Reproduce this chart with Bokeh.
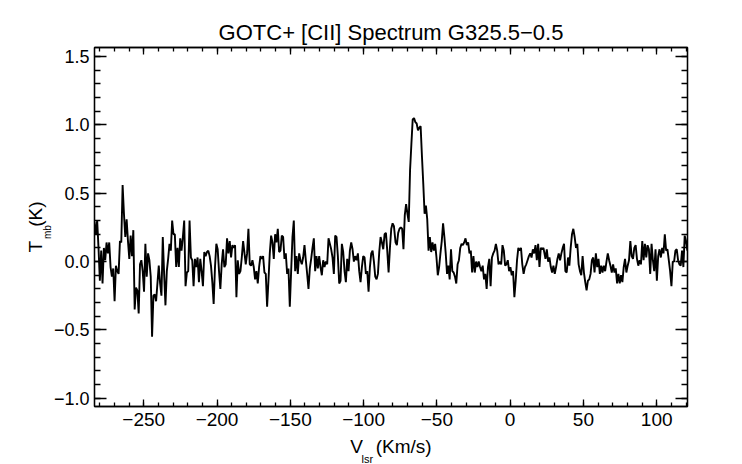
import numpy as np
from bokeh.plotting import figure
from bokeh.models import (Range1d, LinearAxis, SingleIntervalTicker, CustomJSTickFormatter, Label)
from bokeh.embed import file_html
from bokeh.resources import INLINE

# ---------------- data ----------------
title_text = "GOTC+ [CII] Spectrum G325.5\u22120.5"
x_range_kms = (-283.6, 121.0)
y_range_k = (-1.06, 1.566)

# spectrum pieces: (first, last) channel velocity in km/s, and Tmb values in K
seg1_vel = (-283.6, -182.2)
seg1_tmb = [0.29, 0.20, 0.30, 0.10, -0.14, 0.08, -0.16, 0.10, 0.01, 0.14,
            0.06, 0.14, -0.04, -0.11, -0.05, -0.29, -0.03, -0.07, -0.09, 0.15,
            0.14, 0.56, 0.35, 0.18, 0.31, 0.15, 0.02, 0.19, 0.04, 0.23,
            -0.35, -0.19, -0.21, -0.38, -0.02, 0.01, -0.07, -0.22, 0.13, -0.11,
            0.06, 0.01, -0.11, -0.55, -0.25, -0.24, -0.29, -0.16, -0.03, -0.16,
            -0.25, 0.18, -0.09, -0.32, -0.07, 0.02, 0.13, 0.08, 0.30, 0.20,
            0.20, -0.04, 0.10, -0.04, 0.17, 0.08, 0.18, 0.30, -0.18, -0.08,
            -0.07, 0.30, 0.03, 0.01, -0.18, 0.02, -0.04, 0.03, -0.15, 0.02,
            -0.07, -0.18, 0.07, 0.04, 0.07, 0.08, 0.04, -0.03, -0.15, -0.31,
            -0.04, 0.13, 0.09, -0.07, -0.20, -0.02, 0.09, -0.04, -0.02, 0.17,
            0.06, 0.15, 0.03, 0.12, 0.10, 0.12, -0.26, 0.01, -0.09, -0.07,
            0.03, 0.15]

seg2_vel = (-180.4, -79.3)
seg2_tmb = [-0.02, 0.06, 0.24, -0.02, -0.03, 0.01, -0.04, -0.13, -0.07, -0.16,
            -0.04, 0.04, 0.02, 0.04, -0.08, -0.09, -0.33, -0.14, 0.06, 0.19,
            0.14, 0.02, 0.20, 0.14, 0.24, 0.07, 0.08, 0.19, 0.18, 0.02,
            0.06, -0.09, -0.05, -0.33, -0.07, 0.18, 0.30, -0.07, 0.04, -0.09,
            0.06, 0.01, -0.02, 0.03, 0.12, 0.01, -0.09, -0.20, -0.05, 0.02,
            0.10, 0.17, -0.07, 0.04, -0.05, 0.04, -0.04, -0.10, 0.01, -0.04,
            0.00, -0.02, 0.17, 0.13, 0.09, 0.03, -0.09, 0.19, 0.18, 0.04,
            -0.16, -0.14, 0.13, 0.07, -0.07, -0.15, 0.02, -0.07, 0.08, 0.14,
            0.09, 0.00, 0.04, 0.01, 0.06, -0.07, -0.15, -0.04, 0.04, 0.03,
            -0.09, -0.07, -0.22, -0.04, 0.06, 0.08, 0.00, -0.11, -0.13, -0.09,
            0.07, 0.18, 0.14, 0.09, 0.20, 0.21, 0.08, -0.08, 0.10, 0.24,
            0.28, 0.26]

seg3_vel = (-78.2, 22.7)
seg3_tmb = [0.14, 0.12, 0.21, 0.24, 0.25, 0.24, 0.09, 0.34, 0.42, 0.35,
            0.29, 0.67, 0.86, 1.04, 1.05, 1.02, 1.01, 0.96, 0.98, 0.99,
            0.77, 0.57, 0.35, 0.41, 0.31, 0.08, 0.18, 0.07, 0.14, 0.08,
            0.13, 0.03, -0.10, -0.04, 0.06, 0.15, 0.28, 0.18, 0.06, -0.09,
            -0.03, -0.13, 0.09, -0.07, -0.08, -0.11, -0.16, -0.02, 0.01, 0.10,
            0.13, 0.12, 0.14, 0.17, 0.12, 0.14, 0.06, 0.08, -0.08, 0.04,
            -0.08, 0.00, -0.04, 0.00, -0.04, -0.07, -0.03, -0.13, -0.09, -0.20,
            -0.04, 0.02, -0.18, 0.03, 0.06, 0.08, 0.13, 0.08, -0.02, 0.00,
            -0.02, 0.12, 0.08, -0.03, -0.02, 0.01, -0.07, -0.04, -0.10, -0.07,
            -0.26, -0.14, 0.01, 0.10, 0.08, 0.10, -0.02, -0.09, -0.04, -0.02,
            0.01, 0.04, 0.06, 0.03, 0.09, 0.06, 0.12, 0.01, 0.13, -0.04,
            0.10, 0.09, 0.10]

seg4_vel = (24.1, 120.9)
seg4_tmb = [0.02, 0.09, 0.00, 0.03, -0.04, -0.08, -0.03, -0.09, -0.04, 0.02,
            0.06, 0.01, 0.06, 0.10, 0.13, -0.07, -0.08, 0.03, -0.03, 0.10,
            0.20, 0.24, 0.18, 0.10, 0.13, -0.02, -0.07, -0.10, 0.04, -0.08,
            -0.15, -0.21, -0.14, -0.13, -0.09, 0.01, 0.03, -0.08, 0.06, -0.04,
            0.02, -0.09, -0.03, -0.08, -0.03, -0.07, 0.00, 0.06, 0.01, -0.03,
            -0.08, -0.02, -0.08, -0.05, -0.16, -0.09, -0.16, -0.10, -0.15, -0.04,
            0.02, -0.08, -0.03, 0.01, 0.15, 0.04, 0.02, 0.10, 0.12, 0.02,
            -0.03, 0.01, -0.02, 0.15, 0.01, 0.13, 0.03, 0.12, 0.09, -0.09,
            0.13, 0.01, -0.07, 0.09, -0.14, 0.04, 0.09, 0.03, 0.10, 0.06,
            0.20, 0.08, 0.09, 0.01, -0.07, -0.18, 0.00, 0.00, 0.08, 0.09,
            0.01, -0.02, -0.03, 0.08, -0.04, 0.19, 0.15, 0.08]

segments = [(seg1_vel, seg1_tmb), (seg2_vel, seg2_tmb), (seg3_vel, seg3_tmb), (seg4_vel, seg4_tmb)]
vel = np.concatenate([np.linspace(a, b, len(t)) for (a, b), t in segments])
tmb = np.concatenate([np.array(t, dtype=float) for _, t in segments])

# ---------------- figure ----------------
FONT = "Liberation Sans"
W, H = 742, 464
ML, MR, MT, MB = 94, 55, 47, 58

p = figure(width=W, height=H, output_backend="svg", toolbar_location=None,
           x_range=Range1d(*x_range_kms), y_range=Range1d(*y_range_k),
           min_border_left=ML, min_border_right=MR, min_border_top=MT, min_border_bottom=MB,
           x_axis_location=None, y_axis_location=None, title=title_text)
p.background_fill_color = "white"
p.border_fill_color = "white"
p.outline_line_color = "black"
p.outline_line_width = 1.3
p.xgrid.visible = False
p.ygrid.visible = False

p.title.text_font = FONT
p.title.text_font_size = "22px"
p.title.text_font_style = "normal"
p.title.text_color = "black"
p.title.align = "center"
p.title.standoff = 6

p.line(vel, tmb, line_color="black", line_width=1.9)

xfmt = CustomJSTickFormatter(code="return (Math.abs(tick) < 1e-9 ? 0 : tick).toFixed(0).replace('-', '\u2212');")
yfmt = CustomJSTickFormatter(code="return (Math.abs(tick) < 1e-9 ? 0 : tick).toFixed(1).replace('-', '\u2212');")
blank = CustomJSTickFormatter(code="return '';")


def style_axis(ax, major_in, minor_in):
    ax.major_tick_in = major_in
    ax.major_tick_out = 0
    ax.minor_tick_in = minor_in
    ax.minor_tick_out = 0
    ax.axis_line_color = "black"
    ax.axis_line_width = 1.3
    ax.major_tick_line_color = "black"
    ax.major_tick_line_width = 1.3
    ax.minor_tick_line_color = "black"
    ax.minor_tick_line_width = 1.3
    ax.major_label_text_font = FONT
    ax.major_label_text_color = "black"
    ax.axis_label_text_font = FONT
    ax.axis_label_text_font_style = "normal"
    ax.axis_label_text_color = "black"
    ax.axis_label_text_font_size = "19px"


bx = LinearAxis(ticker=SingleIntervalTicker(interval=50, num_minor_ticks=5), formatter=xfmt)
style_axis(bx, 7, 4)
bx.major_label_text_font_size = "19px"
bx.major_label_standoff = 6
bx.axis_label = "V\u2002\u2006(Km/s)"
bx.axis_label_standoff = 7
p.add_layout(bx, "below")

tx = LinearAxis(ticker=SingleIntervalTicker(interval=50, num_minor_ticks=5), formatter=blank)
style_axis(tx, 7, 4)
tx.major_label_text_font_size = "1px"
tx.major_label_standoff = 0
p.add_layout(tx, "above")

ly = LinearAxis(ticker=SingleIntervalTicker(interval=0.5, num_minor_ticks=5), formatter=yfmt)
style_axis(ly, 12, 6)
ly.major_label_text_font_size = "18px"
ly.major_label_standoff = 5
ly.axis_label = "T\u2002\u2005(K)"
ly.axis_label_standoff = 5
p.add_layout(ly, "left")

ry = LinearAxis(ticker=SingleIntervalTicker(interval=0.5, num_minor_ticks=5), formatter=blank)
style_axis(ry, 12, 6)
ry.major_label_text_font_size = "1px"
ry.major_label_standoff = 0
p.add_layout(ry, "right")

# subscripts of the axis labels (placed in canvas pixels, drawn from a side panel)
sub_lsr = Label(x=361, y=458, x_units="canvas", y_units="canvas", text="lsr",
                text_font=FONT, text_font_size="11px", text_color="black",
                text_align="left", text_baseline="alphabetic")
sub_mb = Label(x=47, y=238.5, x_units="canvas", y_units="canvas", text="mb",
               text_font=FONT, text_font_size="10px", text_color="black",
               angle=np.pi / 2, text_align="left", text_baseline="alphabetic")
p.add_layout(sub_lsr, "right")
p.add_layout(sub_mb, "right")

open("out.html", "w").write(file_html(p, INLINE))
